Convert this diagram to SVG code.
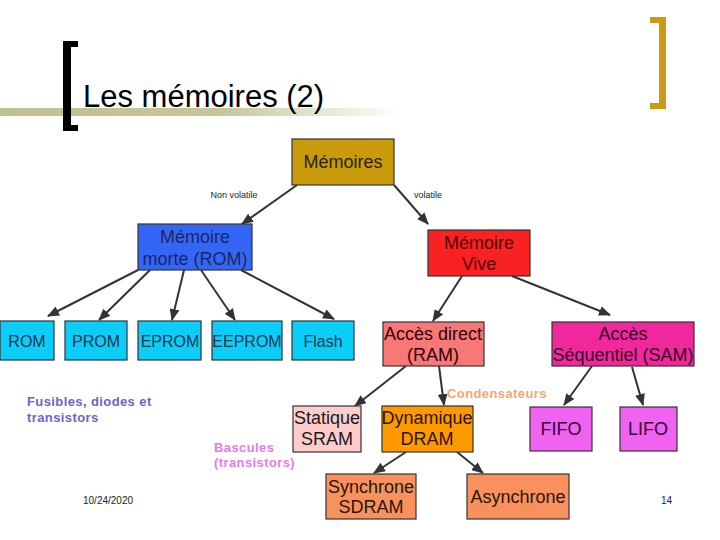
<svg xmlns="http://www.w3.org/2000/svg" width="720" height="540" viewBox="0 0 720 540">
<style>
.box{stroke:#333;stroke-width:1.2}
.t{font-family:"Liberation Sans",Arial,sans-serif;font-size:18px;text-anchor:middle}
.s{font-family:"Liberation Sans",Arial,sans-serif;font-size:16px;text-anchor:middle;fill:#1c3550}
.lab{font-family:"Liberation Sans",Arial,sans-serif;font-size:9px;fill:#222;text-anchor:middle}
.note{font-family:"Liberation Sans",Arial,sans-serif;font-size:13px;font-weight:bold;letter-spacing:0.4px}
.edge{stroke:#333;stroke-width:2;fill:none;marker-end:url(#ah)}
.foot{font-family:"Liberation Sans",Arial,sans-serif;font-size:10px;fill:#222}
</style>
<defs>
<marker id="ah" markerUnits="userSpaceOnUse" markerWidth="12" markerHeight="10" viewBox="0 0 12 10" refX="11" refY="5" orient="auto">
<path d="M0,0 L12,5 L0,10 Z" fill="#333"/>
</marker>
<linearGradient id="gl" x1="0" x2="1" y1="0" y2="0">
<stop offset="0" stop-color="#bfbf90"/>
<stop offset="0.55" stop-color="#c6c69a"/>
<stop offset="1" stop-color="#ffffff"/>
</linearGradient>
</defs>
<rect width="720" height="540" fill="#fff"/>
<g id="title">
<rect x="0" y="108" width="400" height="8" fill="url(#gl)"/>
<path d="M63,41 H78 V47 H71 V125 H78 V131 H63 Z" fill="#000"/>
<path d="M650,17 H666 V109 H650 V103 H659 V23 H650 Z" fill="#cc9a12"/>
<text x="83" y="107" font-family="'Liberation Sans',Arial,sans-serif" font-size="31" fill="#000">Les mémoires (2)</text>
</g>
<g id="connectors">
<line class="edge" x1="297" y1="185" x2="242" y2="224"/>
<line class="edge" x1="394" y1="185" x2="428" y2="224"/>
<line class="edge" x1="138" y1="270" x2="48" y2="316"/>
<line class="edge" x1="150" y1="270" x2="99" y2="320"/>
<line class="edge" x1="184" y1="270" x2="172" y2="320"/>
<line class="edge" x1="201" y1="270" x2="235" y2="320"/>
<line class="edge" x1="241" y1="270" x2="334" y2="319"/>
<line class="edge" x1="462" y1="276" x2="433" y2="321"/>
<line class="edge" x1="512" y1="276" x2="610" y2="315"/>
<line class="edge" x1="406" y1="366" x2="355" y2="406"/>
<line class="edge" x1="439" y1="366" x2="444" y2="405"/>
<line class="edge" x1="592" y1="366" x2="564" y2="405"/>
<line class="edge" x1="632" y1="367" x2="643" y2="405"/>
<line class="edge" x1="406" y1="452" x2="374" y2="473"/>
<line class="edge" x1="457" y1="452" x2="483" y2="473"/>
<text class="lab" x="234" y="198">Non volatile</text>
<text class="lab" x="428" y="198">volatile</text>
</g>
<g id="memoires">
<rect class="box" x="292" y="139" width="102" height="46" fill="#c99b0c"/>
<text class="t" x="343" y="168" fill="#2b2200">Mémoires</text>
</g>
<g id="rom-main">
<rect class="box" x="138" y="224" width="114" height="46" fill="#3466f6"/>
<text class="t" x="195" y="243" fill="#1a2766">Mémoire</text>
<text class="t" x="195" y="265" fill="#1a2766">morte (ROM)</text>
</g>
<g id="vive">
<rect class="box" x="428" y="230" width="102" height="46" fill="#f82222"/>
<text class="t" x="479" y="249" fill="#550000">Mémoire</text>
<text class="t" x="479" y="270" fill="#550000">Vive</text>
</g>
<g id="rom"><rect class="box" x="0" y="321" width="54" height="39" fill="#0bcdf8"/><text class="s" x="27" y="347">ROM</text></g>
<g id="prom"><rect class="box" x="65" y="321" width="62" height="39" fill="#0bcdf8"/><text class="s" x="96" y="347">PROM</text></g>
<g id="eprom"><rect class="box" x="138" y="321" width="63" height="39" fill="#0bcdf8"/><text class="s" x="170" y="347">EPROM</text></g>
<g id="eeprom"><rect class="box" x="212" y="321" width="70" height="39" fill="#0bcdf8"/><text class="s" x="247" y="347">EEPROM</text></g>
<g id="flash"><rect class="box" x="292" y="321" width="62" height="39" fill="#0bcdf8"/><text class="s" x="323" y="347">Flash</text></g>
<g id="ram">
<rect class="box" x="383" y="322" width="101" height="44" fill="#f87878"/>
<text class="t" x="433" y="340" fill="#330000">Accès direct</text>
<text class="t" x="433" y="361" fill="#330000">(RAM)</text>
</g>
<g id="sam">
<rect class="box" x="552" y="322" width="142" height="44" fill="#f0289c"/>
<text class="t" x="623" y="340" fill="#33002a">Accès</text>
<text class="t" x="623" y="361" fill="#33002a">Séquentiel (SAM)</text>
</g>
<g id="sram">
<rect class="box" x="293" y="406" width="68" height="46" fill="#ffcccc"/>
<text class="t" x="327" y="424" fill="#1a1a1a">Statique</text>
<text class="t" x="327" y="445" fill="#1a1a1a">SRAM</text>
</g>
<g id="dram">
<rect class="box" x="382" y="406" width="91" height="46" fill="#ff9900"/>
<text class="t" x="427" y="424" fill="#2b1600">Dynamique</text>
<text class="t" x="427" y="445" fill="#2b1600">DRAM</text>
</g>
<g id="fifo"><rect class="box" x="530" y="407" width="62" height="44" fill="#f062f0"/><text class="t" x="561" y="435" fill="#330033">FIFO</text></g>
<g id="lifo"><rect class="box" x="620" y="407" width="57" height="44" fill="#f062f0"/><text class="t" x="648" y="435" fill="#330033">LIFO</text></g>
<g id="sdram">
<rect class="box" x="326" y="474" width="90" height="45" fill="#f8915e"/>
<text class="t" x="371" y="493" fill="#2b1600">Synchrone</text>
<text class="t" x="371" y="513" fill="#2b1600">SDRAM</text>
</g>
<g id="async">
<rect class="box" x="467" y="474" width="102" height="45" fill="#f8915e"/>
<text class="t" x="518" y="503" fill="#2b1600">Asynchrone</text>
</g>
<g id="notes">
<text class="note" x="27" y="406" fill="#6666cc">Fusibles, diodes et</text>
<text class="note" x="27" y="422" fill="#6666cc">transistors</text>
<text class="note" x="214" y="452" fill="#e27ee2">Bascules</text>
<text class="note" x="214" y="467" fill="#e27ee2">(transistors)</text>
<text class="note" x="447" y="398" fill="#f0a878">Condensateurs</text>
<text class="foot" x="83" y="504">10/24/2020</text>
<text class="foot" x="661" y="504">14</text>
</g>
</svg>
